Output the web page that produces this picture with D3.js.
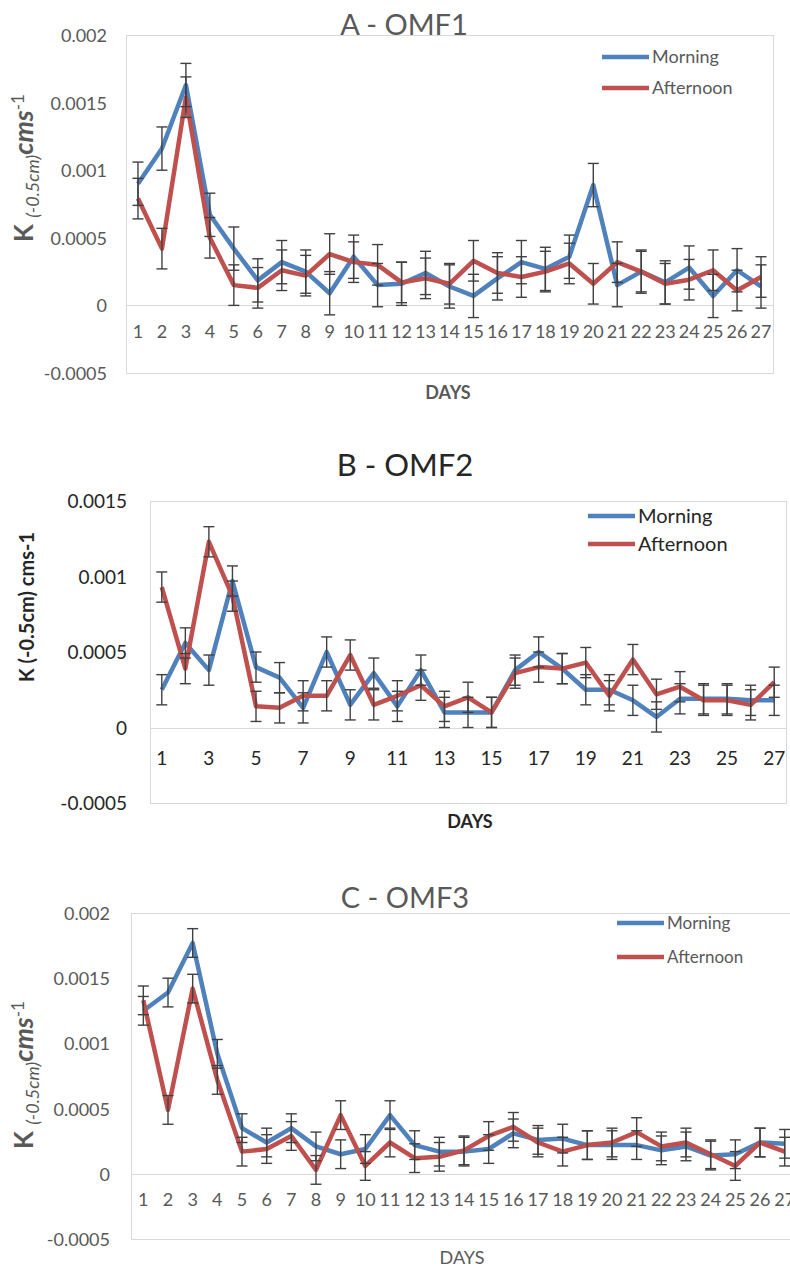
<!DOCTYPE html>
<html>
<head>
<meta charset="utf-8">
<script src="https://cdn.jsdelivr.net/npm/d3@7"></script>
<style>
  html, body { margin: 0; padding: 0; background: #fff; }
  svg { display: block; font-family: Lato, "Open Sans", sans-serif; }
</style>
</head>
<body>
<svg id="chart" width="790" height="1267"></svg>
<script>
// days on the x axis
const days = [1, 2, 3, 4, 5, 6, 7, 8, 9, 10, 11, 12, 13, 14, 15, 16, 17, 18, 19, 20, 21, 22, 23, 24, 25, 26, 27];

// A - OMF1
const omf1Morning   = [0.0009, 0.00116, 0.00163, 0.00067, 0.00042, 0.000185, 0.00032, 0.00025, 0.00009, 0.00036, 0.00015, 0.00016, 0.00024, 0.00014, 0.00007, 0.0002, 0.00032, 0.00027, 0.00036, 0.00089, 0.00015, 0.00025, 0.00017, 0.00028, 0.00007, 0.00026, 0.00014];
const omf1Afternoon = [0.00079, 0.00042, 0.00154, 0.0005, 0.00015, 0.00013, 0.00026, 0.00022, 0.00038, 0.00032, 0.0003, 0.00017, 0.0002, 0.00016, 0.00033, 0.00024, 0.00021, 0.00025, 0.00031, 0.00016, 0.00032, 0.00025, 0.00016, 0.00019, 0.00026, 0.00011, 0.00021];
const omf1Err = [0.00016, 0.00015];   // morning, afternoon

// B - OMF2
const omf2Morning   = [0.00025, 0.00056, 0.00038, 0.00097, 0.0004, 0.00033, 0.00013, 0.0005, 0.00015, 0.00036, 0.00014, 0.00038, 0.0001, 0.0001, 0.0001, 0.00038, 0.0005, 0.00039, 0.00025, 0.00025, 0.00018, 0.00007, 0.00019, 0.00019, 0.00019, 0.00018, 0.00018];
const omf2Afternoon = [0.00093, 0.00039, 0.00123, 0.00087, 0.00014, 0.00013, 0.00021, 0.00021, 0.00048, 0.00015, 0.00021, 0.00028, 0.00014, 0.0002, 0.0001, 0.00036, 0.0004, 0.00039, 0.00043, 0.00021, 0.00045, 0.00022, 0.00027, 0.00018, 0.00018, 0.00015, 0.0003];
const omf2Err = [0.0001, 0.0001];

// C - OMF3
const omf3Morning   = [0.00125, 0.00139, 0.00177, 0.00092, 0.00035, 0.00024, 0.00035, 0.00021, 0.00015, 0.00019, 0.00045, 0.00022, 0.00017, 0.00017, 0.00019, 0.00031, 0.00026, 0.00027, 0.00022, 0.00022, 0.00022, 0.00018, 0.00021, 0.00014, 0.00015, 0.00024, 0.00023];
const omf3Afternoon = [0.00133, 0.00049, 0.00142, 0.00072, 0.00017, 0.00019, 0.00029, 0.00003, 0.00045, 0.00006, 0.00024, 0.00012, 0.00013, 0.00018, 0.00029, 0.00036, 0.00024, 0.00017, 0.00022, 0.00024, 0.00032, 0.00021, 0.00024, 0.00015, 0.00006, 0.00024, 0.00017];
const omf3Err = [0.00011, 0.00011];

// y ticks
const yTicksAC = [-0.0005, 0, 0.0005, 0.001, 0.0015, 0.002];
const yTicksB  = [-0.0005, 0, 0.0005, 0.001, 0.0015];

const seriesNames  = ['Morning', 'Afternoon'];
const seriesColors = ['#4f81bd', '#c0504d'];

const svg = d3.select('#chart');

drawPanel({
    title: 'A - OMF1', data: [omf1Morning, omf1Afternoon], err: omf1Err, yTicks: yTicksAC,
    x0: 126, x1: 773, yTop: 35, yBot: 373, labelEvery: 1,
    ink: '#595959', tickSize: 18, titleSize: 29, titleX: 404, titleY: 35,
    labelY: 339, tickRight: 107, yTitle: 'fancy', yTitleX: 27, yTitleY: 168,
    daysX: 448, daysY: 399, daysBold: true,
    legX: 602, legY: [57, 88], legSize: 18
});

drawPanel({
    title: 'B - OMF2', data: [omf2Morning, omf2Afternoon], err: omf2Err, yTicks: yTicksB,
    x0: 150, x1: 786, yTop: 501, yBot: 803, labelEvery: 2,
    ink: '#262626', tickSize: 19, titleSize: 31, titleX: 405, titleY: 476,
    labelY: 765, tickRight: 127, yTitle: 'plain', yTitleX: 27, yTitleY: 607,
    daysX: 470, daysY: 828, daysBold: true,
    legX: 588, legY: [516, 544], legSize: 20
});

drawPanel({
    title: 'C - OMF3', data: [omf3Morning, omf3Afternoon], err: omf3Err, yTicks: yTicksAC,
    x0: 131, x1: 797, yTop: 913, yBot: 1239, labelEvery: 1,
    ink: '#595959', tickSize: 18, titleSize: 29, titleX: 405, titleY: 908,
    labelY: 1207, tickRight: 110, yTitle: 'fancy', yTitleX: 27, yTitleY: 1075,
    daysX: 462, daysY: 1264, daysBold: false,
    legX: 617, legY: [923, 957], legSize: 17
});

function drawPanel(p) {
    const g = svg.append('g');

    const x = d3.scaleBand().domain(days).range([p.x0, p.x1]);
    const y = d3.scaleLinear().domain([d3.min(p.yTicks), d3.max(p.yTicks)]).range([p.yBot, p.yTop]);

    // plot area frame
    g.append('rect')
        .attr('x', p.x0 + 0.5).attr('y', p.yTop + 0.5)
        .attr('width', p.x1 - p.x0).attr('height', p.yBot - p.yTop)
        .attr('fill', 'none').attr('stroke', '#d9d9d9');

    // zero line
    g.append('line')
        .attr('x1', p.x0).attr('x2', p.x1)
        .attr('y1', Math.round(y(0)) + 0.5).attr('y2', Math.round(y(0)) + 0.5)
        .attr('stroke', '#d9d9d9');

    // y axis labels
    const yAxis = d3.axisLeft(y).tickValues(p.yTicks).tickSize(0).tickPadding(0)
        .tickFormat(d => String(d));
    g.append('g')
        .attr('transform', 'translate(' + p.tickRight + ',0)')
        .call(yAxis)
        .call(s => s.select('.domain').remove())
        .selectAll('text')
        .attr('font-family', 'Lato').attr('font-size', p.tickSize)
        .attr('fill', p.ink).attr('dy', '0.36em');

    // x axis labels
    const xAxis = d3.axisBottom(x).tickSize(0).tickPadding(0)
        .tickFormat((d, i) => (i % p.labelEvery === 0) ? d : '');
    g.append('g')
        .attr('transform', 'translate(0,' + (p.labelY - 14) + ')')
        .call(xAxis)
        .call(s => s.select('.domain').remove())
        .selectAll('text')
        .attr('font-family', 'Lato').attr('font-size', p.tickSize)
        .attr('fill', p.ink).attr('dy', '0.71em');

    const cx = d => x(d) + x.bandwidth() / 2;

    // series lines
    const line = d3.line()
        .x((v, i) => cx(days[i]))
        .y(v => y(v));
    p.data.forEach((vals, k) => {
        g.append('path')
            .datum(vals)
            .attr('fill', 'none')
            .attr('stroke', seriesColors[k])
            .attr('stroke-width', 4.5)
            .attr('stroke-linejoin', 'round')
            .attr('d', line);
    });

    // error bars
    p.data.forEach((vals, k) => {
        const e = p.err[k];
        const eb = g.append('g').attr('stroke', '#404040').attr('stroke-width', 1.4);
        vals.forEach((v, i) => {
            const xx = cx(days[i]);
            eb.append('line').attr('x1', xx).attr('x2', xx).attr('y1', y(v - e)).attr('y2', y(v + e));
            [v - e, v + e].forEach(t => {
                eb.append('line').attr('x1', xx - 5.5).attr('x2', xx + 5.5).attr('y1', y(t)).attr('y2', y(t));
            });
        });
    });

    // title
    g.append('text')
        .attr('x', p.titleX).attr('y', p.titleY)
        .attr('text-anchor', 'middle')
        .attr('font-size', p.titleSize)
        .attr('fill', p.ink)
        .text(p.title);

    // y axis title
    const yt = g.append('text')
        .attr('transform', 'translate(' + p.yTitleX + ',' + p.yTitleY + ') rotate(-90)')
        .attr('text-anchor', 'middle')
        .attr('fill', p.ink);
    if (p.yTitle === 'fancy') {
        yt.attr('dy', '0.35em');
        yt.append('tspan').attr('font-size', 26).attr('font-weight', 'bold').text('K ');
        yt.append('tspan').attr('font-size', 18).attr('font-style', 'italic').attr('dy', 6).text('(-0.5cm)');
        yt.append('tspan').attr('font-size', 27).attr('font-weight', 'bold').attr('font-style', 'italic').attr('dy', -6).text('cms');
        yt.append('tspan').attr('font-size', 17).attr('dy', -9).text('-1');
    } else {
        yt.attr('dy', '0.35em')
            .attr('font-size', 20).attr('font-weight', 'bold')
            .text('K (-0.5cm) cms-1');
    }

    // x axis title
    g.append('text')
        .attr('x', p.daysX).attr('y', p.daysY)
        .attr('text-anchor', 'middle')
        .attr('font-size', 18)
        .attr('font-weight', p.daysBold ? 'bold' : 'normal')
        .attr('fill', p.ink)
        .text('DAYS');

    // legend
    seriesNames.forEach((name, k) => {
        const ly = p.legY[k];
        g.append('line')
            .attr('x1', p.legX).attr('x2', p.legX + 47)
            .attr('y1', ly).attr('y2', ly)
            .attr('stroke', seriesColors[k]).attr('stroke-width', 4.5);
        g.append('text')
            .attr('x', p.legX + 50).attr('y', ly)
            .attr('dy', '0.36em')
            .attr('font-size', p.legSize)
            .attr('fill', p.ink)
            .text(name);
    });
}
</script>
</body>
</html>
